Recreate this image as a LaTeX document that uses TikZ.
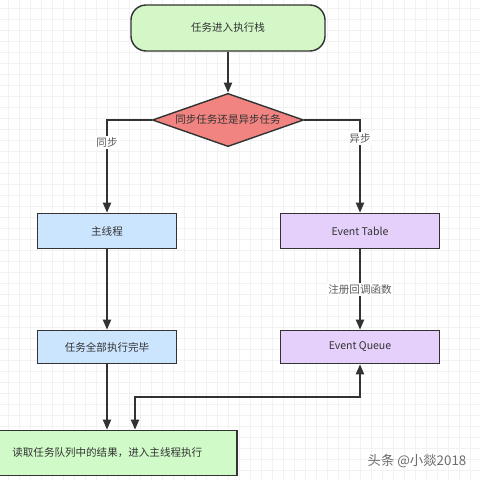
\documentclass[tikz,border=0pt]{standalone}
\usepackage{fontspec}
\newfontfamily\cjk{Noto Sans CJK SC}
\usetikzlibrary{shapes.geometric,arrows.meta}
\definecolor{startgreen}{RGB}{212,247,200}
\definecolor{decidered}{RGB}{241,132,128}
\definecolor{mainblue}{RGB}{204,229,255}
\definecolor{eventpurple}{RGB}{229,208,252}
\definecolor{readgreen}{RGB}{208,250,200}
\definecolor{linegray}{RGB}{51,51,51}
\newcommand*{\PicSize}{480}
\newcommand*{\BoxFont}{\cjk\fontsize{7.5}{9}\selectfont}
\tikzset{
  box/.style={draw=linegray, line width=1pt, font=\BoxFont, text=linegray, inner sep=0pt},
  flow/.style={draw=linegray, line width=1.4pt},
  flowlabel/.style={fill=white, font=\BoxFont, text=linegray!80, inner sep=1pt},
  gridline/.style={draw=gray!10, line width=0.4pt},
  >={Triangle[length=2.5mm,width=2mm]}
}

\begin{document}
\begin{tikzpicture}[x=0.025cm, y=-0.025cm]
    \useasboundingbox (0,0) rectangle (\PicSize,\PicSize);
    % background grid
    \foreach \g in {8,19,...,480} {
        \draw[gridline] (\g,0) -- (\g,\PicSize);
        \draw[gridline] (0,\g) -- (\PicSize,\g);
    }

    \node[box, fill=startgreen, rounded corners=0.38cm, minimum width=4.85cm, minimum height=1.15cm]
      (start) at (228,28) {任务进入执行栈};
    \node[box, diamond, aspect=2.85, fill=decidered, minimum width=3.78cm, minimum height=1.33cm]
      (decide) at (228,120) {同步任务还是异步任务};
    \node[box, fill=mainblue, minimum width=3.48cm, minimum height=0.88cm] (main) at (107,231) {主线程};
    \node[box, fill=mainblue, minimum width=3.48cm, minimum height=0.83cm] (done) at (107,347) {任务全部执行完毕};
    \node[box, fill=eventpurple, minimum width=3.98cm, minimum height=0.88cm] (etable) at (360,231) {Event Table};
    \node[box, fill=eventpurple, minimum width=3.98cm, minimum height=0.83cm] (equeue) at (360,347) {Event Queue};
    \node[box, fill=readgreen, minimum height=1.13cm, text width=5.28cm, inner xsep=0.33cm, align=left]
      (read) at (118,453) {读取任务队列中的结果，进入主线程执行};
    \node[font=\cjk\fontsize{9.5}{11}\selectfont, text=gray!85!black] (mark) at (417,461) {头条 @小燚2018};

    \draw[flow, ->] (start) -- (decide);
    \draw[flow, ->] (decide) -| node[flowlabel, pos=0.62] {同步} (main);
    \draw[flow, ->] (decide) -| node[flowlabel, pos=0.6] {异步} (etable);
    \draw[flow, ->] (main) -- (done);
    \draw[flow, ->] (etable) -- node[flowlabel] {注册回调函数} (equeue);
    \draw[flow, ->] (done) -- (done |- read.north);
    \coordinate (bend) at (135,397);
    \draw[flow, <->] (equeue) |- (bend) -- (bend |- read.north);
\end{tikzpicture}
\end{document}
